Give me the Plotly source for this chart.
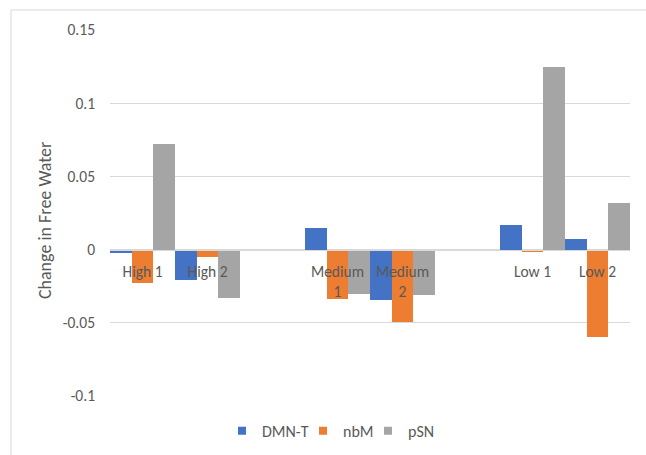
import plotly.graph_objects as go

# Category slots along the horizontal axis (empty strings are spacer slots)
categories = ["High 1", "High 2", "", "Medium 1", "Medium 2", "", "Low 1", "Low 2"]
tick_labels = ["High 1", "High 2", "", "Medium<br>1", "Medium<br>2", "", "Low 1", "Low 2"]

# Change in free water per measure
dmn_t = [-0.0023, -0.0210, None, 0.0150, -0.0346, None, 0.0168, 0.0072]
nbm = [-0.0228, -0.0050, None, -0.0337, -0.0494, None, -0.0014, -0.0600]
psn = [0.0724, -0.0328, None, -0.0305, -0.0307, None, 0.1247, 0.0321]

series_names = ["DMN-T", "nbM", "pSN"]
series_colors = ["#4472C4", "#ED7D31", "#A5A5A5"]
# legend entry widths (px) so the keys sit close together
legend_widths = [36, 20, 30]

y_tickvals = [-0.1, -0.05, 0, 0.05, 0.1, 0.15]
y_ticktext = ["-0.1", "-0.05", "0", "0.05", "0.1", "0.15"]
y_range = [-0.1, 0.15]

FONT = "Calibri, Lato, sans-serif"
TEXT_COLOR = "#595959"
GRID_COLOR = "#D9D9D9"

x_pos = list(range(len(categories)))

fig = go.Figure()
for name, vals, color, lw in zip(series_names, [dmn_t, nbm, psn], series_colors, legend_widths):
    fig.add_trace(go.Bar(
        x=x_pos, y=vals, name=name,
        marker=dict(color=color, line=dict(width=0)),
        showlegend=False,
    ))
    # compact square legend key
    fig.add_trace(go.Scatter(
        x=[None], y=[None], name=name, mode="markers",
        marker=dict(symbol="square", size=8, color=color),
        showlegend=True, legendwidth=lw,
    ))

# Horizontal axis sits at value zero: fraction of the value range below zero
zero_frac = (0 - y_range[0]) / (y_range[1] - y_range[0])

fig.update_layout(
    width=646, height=455,
    margin=dict(l=110, r=16, t=30, b=59, autoexpand=False),
    paper_bgcolor="white", plot_bgcolor="white",
    barmode="group", bargap=0, bargroupgap=0,
    font=dict(family=FONT, size=15.5, color=TEXT_COLOR),
    xaxis=dict(
        range=[-0.5, len(categories) - 0.5],
        tickvals=x_pos, ticktext=tick_labels,
        showgrid=False, zeroline=False,
        showline=True, linecolor=GRID_COLOR, linewidth=1,
        anchor="free", position=zero_frac,
        ticks="", ticklabelstandoff=8,
        tickfont=dict(size=15.5, color=TEXT_COLOR),
    ),
    yaxis=dict(
        range=y_range,
        tickvals=y_tickvals, ticktext=y_ticktext,
        showgrid=True, gridcolor=GRID_COLOR, gridwidth=1,
        zeroline=False, showline=False,
        ticks="", ticklabelstandoff=14,
        tickfont=dict(size=15.5, color=TEXT_COLOR),
    ),
    legend=dict(
        orientation="h", x=0.2154, xanchor="left",
        y=-0.095, yanchor="middle",
        font=dict(size=16, color=TEXT_COLOR),
        itemwidth=30,
    ),
    annotations=[dict(
        text="Change in Free Water", textangle=-90,
        xref="paper", yref="paper", x=-0.125, y=0.478,
        xanchor="center", yanchor="middle", showarrow=False,
        font=dict(family=FONT, size=18, color=TEXT_COLOR),
    )],
    shapes=[dict(
        type="rect", xref="paper", yref="paper",
        x0=-0.1904, x1=1.0385, y0=-0.175, y1=1.0546,
        line=dict(color=GRID_COLOR, width=1), layer="below",
    )],
)

fig.write_html("out.html")
